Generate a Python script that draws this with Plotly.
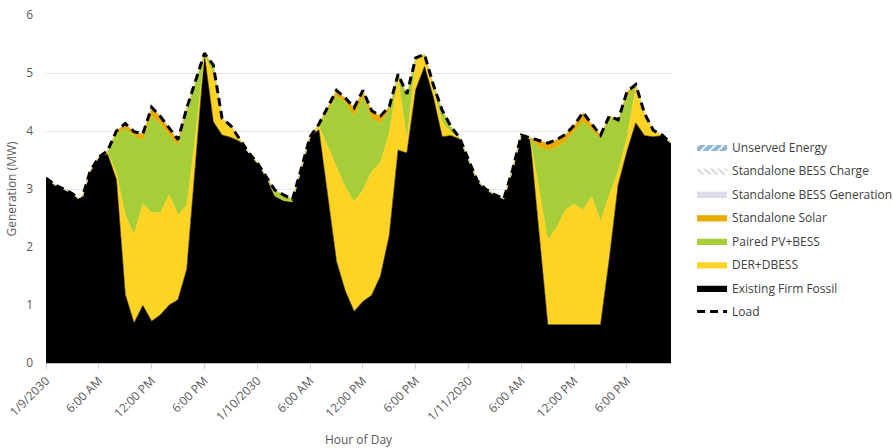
import pandas as pd
import plotly.graph_objects as go

# Hourly timeline, three days
hours = pd.date_range("2030-01-09 00:00", periods=72, freq="h")

tick_positions = hours[::6]
tick_labels = ["1/9/2030", "6:00 AM", "12:00 PM", "6:00 PM",
               "1/10/2030", "6:00 AM", "12:00 PM", "6:00 PM",
               "1/11/2030", "6:00 AM", "12:00 PM", "6:00 PM"]

# Generation by resource (MW)
existing_firm_fossil = [
    3.19, 3.07, 3.00, 2.92, 2.79, 3.30, 3.55, 3.60, 3.16, 1.18, 0.69, 0.99,
    0.72, 0.83, 1.00, 1.09, 1.62, 3.50, 5.30, 4.16, 3.93, 3.89, 3.82, 3.63,
    3.45, 3.22, 2.88, 2.80, 2.78, 3.35, 3.90, 4.02, 2.85, 1.75, 1.24, 0.89,
    1.06, 1.17, 1.50, 2.20, 3.67, 3.62, 4.71, 5.11, 4.58, 3.90, 3.92, 3.86,
    3.50, 3.14, 2.99, 2.90, 2.83, 3.33, 3.93, 3.85, 2.25, 0.66, 0.66, 0.66,
    0.66, 0.66, 0.66, 0.66, 1.80, 3.07, 3.65, 4.14, 3.92, 3.90, 3.92, 3.79,
]
der_dbess = [
    0.00, 0.00, 0.00, 0.00, 0.00, 0.00, 0.00, 0.04, 0.11, 1.37, 1.52, 1.75,
    1.87, 1.76, 1.90, 1.46, 1.10, 0.45, 0.01, 0.82, 0.29, 0.20, 0.04, 0.00,
    0.00, 0.00, 0.00, 0.00, 0.00, 0.00, 0.00, 0.06, 0.87, 1.61, 1.79, 1.89,
    1.92, 2.13, 1.96, 1.76, 1.24, 0.22, 0.50, 0.20, 0.14, 0.25, 0.06, 0.02,
    0.00, 0.00, 0.00, 0.00, 0.00, 0.00, 0.00, 0.01, 0.75, 1.46, 1.67, 1.98,
    2.08, 1.98, 2.21, 1.78, 1.10, 0.23, 0.23, 0.60, 0.36, 0.10, 0.01, 0.00,
]
paired_pv_bess = [
    0.00, 0.00, 0.00, 0.00, 0.00, 0.00, 0.00, 0.01, 0.66, 1.49, 1.71, 1.09,
    1.67, 1.52, 1.03, 1.19, 1.61, 0.87, 0.03, 0.16, 0.00, 0.00, 0.00, 0.00,
    0.00, 0.00, 0.10, 0.10, 0.04, 0.00, 0.00, 0.02, 0.61, 1.24, 1.47, 1.46,
    1.60, 0.91, 0.67, 0.38, 0.04, 0.76, 0.04, 0.01, 0.08, 0.21, 0.10, 0.00,
    0.00, 0.00, 0.00, 0.00, 0.00, 0.00, 0.00, 0.00, 0.72, 1.55, 1.38, 1.18,
    1.25, 1.52, 1.15, 1.42, 1.32, 0.87, 0.69, 0.04, 0.02, 0.00, 0.00, 0.00,
]
standalone_solar = [
    0.00, 0.00, 0.00, 0.00, 0.00, 0.00, 0.00, 0.01, 0.07, 0.09, 0.07, 0.12,
    0.15, 0.14, 0.12, 0.11, 0.07, 0.05, 0.00, 0.00, 0.00, 0.00, 0.00, 0.00,
    0.00, 0.00, 0.00, 0.00, 0.00, 0.00, 0.00, 0.02, 0.07, 0.10, 0.07, 0.16,
    0.12, 0.14, 0.13, 0.08, 0.03, 0.04, 0.01, 0.00, 0.00, 0.00, 0.00, 0.00,
    0.00, 0.00, 0.00, 0.00, 0.00, 0.00, 0.00, 0.02, 0.12, 0.12, 0.14, 0.12,
    0.11, 0.16, 0.10, 0.07, 0.04, 0.02, 0.11, 0.02, 0.00, 0.00, 0.00, 0.00,
]
standalone_bess_generation = [0.0] * 72
standalone_bess_charge = [0.0] * 72
unserved_energy = [0.0] * 72

load = [
    3.19, 3.07, 3.00, 2.92, 2.79, 3.30, 3.55, 3.66, 4.00, 4.13, 3.99, 3.95,
    4.41, 4.25, 4.05, 3.85, 4.40, 4.87, 5.34, 5.14, 4.22, 4.09, 3.86, 3.63,
    3.45, 3.22, 2.98, 2.90, 2.82, 3.35, 3.90, 4.12, 4.40, 4.70, 4.57, 4.40,
    4.70, 4.35, 4.26, 4.42, 4.98, 4.64, 5.26, 5.32, 4.80, 4.36, 4.08, 3.88,
    3.50, 3.14, 2.99, 2.90, 2.83, 3.33, 3.93, 3.88, 3.84, 3.79, 3.85, 3.94,
    4.10, 4.32, 4.12, 3.93, 4.26, 4.19, 4.68, 4.80, 4.30, 4.01, 3.93, 3.79,
]

FONT = "Open Sans"
TEXT = "#595959"

fig = go.Figure()

# Stacked generation, bottom to top
stack = [
    ("Existing Firm Fossil", existing_firm_fossil, "#000000", None, 7),
    ("DER+DBESS", der_dbess, "#FFD324", None, 6),
    ("Paired PV+BESS", paired_pv_bess, "#A6CE39", None, 5),
    ("Standalone Solar", standalone_solar, "#EAAB00", None, 4),
    ("Standalone BESS Generation", standalone_bess_generation, "#DCDBE8", None, 3),
    ("Standalone BESS Charge", standalone_bess_charge, "#FFFFFF",
     dict(shape="\\", fgcolor="#B5B5B5", bgcolor="#FFFFFF", size=5, solidity=0.45), 2),
    ("Unserved Energy", unserved_energy, "#FFFFFF",
     dict(shape="/", fgcolor="#1B66A8", bgcolor="#FFFFFF", size=6, solidity=0.7), 1),
]

for name, values, color, pattern, rank in stack:
    kw = dict(
        x=hours, y=values, name=name, mode="lines", stackgroup="gen",
        line=dict(width=0.6, color=color if pattern is None else "rgba(0,0,0,0)"),
        fillcolor=color, legendgroup=name, legendrank=rank, hoverinfo="skip",
    )
    if pattern is not None:
        kw["fillpattern"] = pattern
    fig.add_trace(go.Scatter(**kw))

fig.add_trace(go.Scatter(
    x=hours, y=load, name="Load", mode="lines",
    line=dict(color="#000000", width=3, dash="8px,5px"),
    legendgroup="Load", legendrank=8, hoverinfo="skip",
))

fig.update_layout(
    width=893, height=448,
    margin=dict(l=46, r=222, t=15, b=85, autoexpand=False),
    paper_bgcolor="white", plot_bgcolor="white",
    font=dict(family=FONT, size=12, color=TEXT),
    showlegend=True,
    legend=dict(
        xref="container", yref="container",
        x=0.775, xanchor="left", y=0.704, yanchor="top",
        font=dict(family=FONT, size=12, color="#404040"),
        tracegroupgap=4.5, bgcolor="rgba(0,0,0,0)",
    ),
    xaxis=dict(
        range=[hours[0], hours[-1]], automargin=False,
        tickmode="array", tickvals=tick_positions, ticktext=tick_labels,
        tickangle=-45, tickfont=dict(size=12, color=TEXT),
        ticks="outside", ticklen=5, tickcolor="#D0D0D0",
        showline=True, linecolor="#BFBFBF", linewidth=1,
        showgrid=False, zeroline=False,
        title=dict(text="Hour of Day", font=dict(size=12, color=TEXT), standoff=12),
    ),
    yaxis=dict(
        range=[0, 6], dtick=1, automargin=False,
        tickfont=dict(size=12, color=TEXT),
        showgrid=True, gridcolor="#E6E6E6", gridwidth=1,
        zeroline=False, showline=False,
        ticklabelstandoff=12,
        title=dict(text="Generation (MW)", font=dict(size=12, color=TEXT), standoff=6),
    ),
)

fig.write_html("out.html")
